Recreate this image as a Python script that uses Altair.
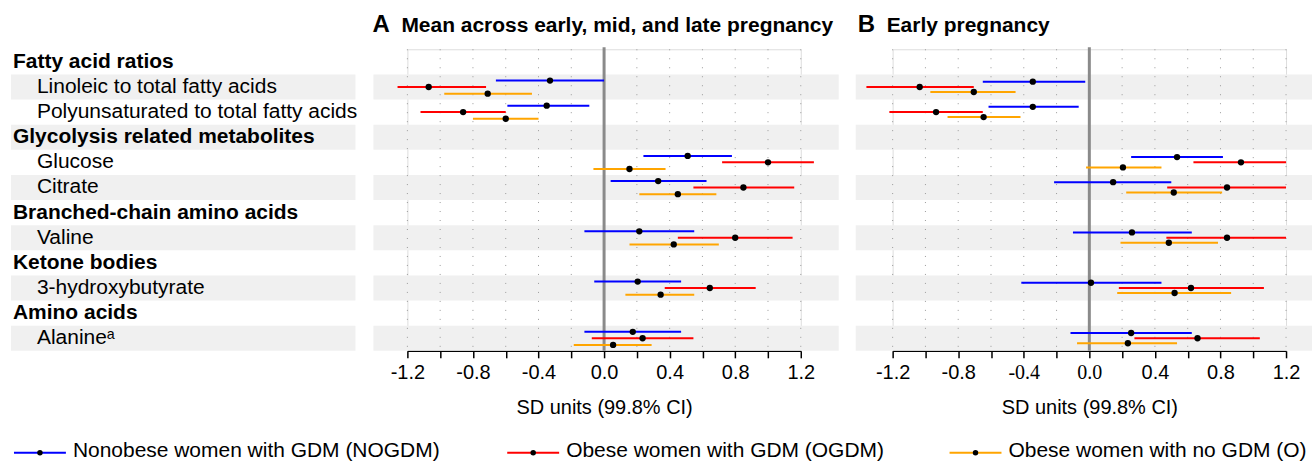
import altair as alt
import pandas as pd

# ---------------- data ----------------
row_labels = [
    "Fatty acid ratios",
    "Linoleic to total fatty acids",
    "Polyunsaturated to total fatty acids",
    "Glycolysis related metabolites",
    "Glucose",
    "Citrate",
    "Branched-chain amino acids",
    "Valine",
    "Ketone bodies",
    "3-hydroxybutyrate",
    "Amino acids",
    "Alanineᵃ",
]
row_is_header = [True, False, False, True, False, False, True, False, True, False, True, False]

groups = [
    "Nonobese women with GDM (NOGDM)",
    "Obese women with GDM (OGDM)",
    "Obese women with no GDM (O)",
]
group_colors = ["#0000ff", "#ff0000", "#ffa500"]

tick_values = [-1.2, -1.0, -0.8, -0.6, -0.4, -0.2, 0.0, 0.2, 0.4, 0.6, 0.8, 1.0, 1.2]

# Panel A: mean across early, mid and late pregnancy (7 metabolites in row order)
a_nogdm_est = [-0.33, -0.35, 0.51, 0.33, 0.215, 0.205, 0.175]
a_nogdm_lo = [-0.66, -0.59, 0.24, 0.04, -0.12, -0.06, -0.12]
a_nogdm_hi = [0.0, -0.09, 0.78, 0.625, 0.55, 0.47, 0.47]
a_ogdm_est = [-1.07, -0.86, 1.0, 0.85, 0.80, 0.645, 0.235]
a_ogdm_lo = [-1.26, -1.12, 0.72, 0.545, 0.45, 0.37, -0.075]
a_ogdm_hi = [-0.72, -0.60, 1.28, 1.16, 1.15, 0.925, 0.545]
a_o_est = [-0.71, -0.60, 0.155, 0.45, 0.425, 0.345, 0.055]
a_o_lo = [-0.975, -0.80, -0.065, 0.215, 0.155, 0.13, -0.185]
a_o_hi = [-0.44, -0.40, 0.375, 0.685, 0.70, 0.55, 0.29]

# Panel B: early pregnancy
b_nogdm_est = [-0.345, -0.345, 0.535, 0.145, 0.26, 0.01, 0.255]
b_nogdm_lo = [-0.65, -0.615, 0.255, -0.215, -0.10, -0.415, -0.115]
b_nogdm_hi = [-0.025, -0.065, 0.815, 0.50, 0.625, 0.44, 0.625]
b_ogdm_est = [-1.035, -0.935, 0.925, 0.84, 0.84, 0.62, 0.66]
b_ogdm_lo = [-1.36, -1.22, 0.635, 0.475, 0.47, 0.18, 0.275]
b_ogdm_hi = [-0.705, -0.65, 1.2, 1.2, 1.2, 1.065, 1.04]
b_o_est = [-0.705, -0.645, 0.205, 0.515, 0.485, 0.52, 0.235]
b_o_lo = [-0.97, -0.865, -0.02, 0.225, 0.19, 0.17, -0.075]
b_o_hi = [-0.45, -0.42, 0.44, 0.81, 0.785, 0.865, 0.535]

# ---------------- layout / style ----------------
FONT = "Liberation Sans"
W = 394
H = 302
A_LEFT = 407          # page x of panel A's plot area
PAD_LEFT = 10
N_ROWS = len(row_labels)
item_rows = [i for i, h in enumerate(row_is_header) if not h]

yscale = alt.Scale(domain=[0, N_ROWS], reverse=True, nice=False, zero=False)
xscale = alt.Scale(domain=[-1.2, 1.2], nice=False, zero=False)

band_df = pd.DataFrame({"y0": [i for i in range(N_ROWS) if i % 2 == 1]})
band_df["y1"] = band_df["y0"] + 1


def panel_df(ests, los, his, offsets):
    recs = []
    for g, (e, l, h) in enumerate(zip(ests, los, his)):
        for k, r in enumerate(item_rows):
            recs.append(dict(group=groups[g], est=e[k], lo=l[k], hi=h[k], pos=r + offsets[g]))
    return pd.DataFrame(recs)


LABEL_EXPR = ("abs(round(datum.value*10)) % 4 == 0 ? "
              "(datum.value < -0.01 ? '-' : '') + format(abs(datum.value), '.1f') : ''")


def make_axis(serif):
    kw = dict(
        values=tick_values, labelExpr=LABEL_EXPR, title="SD units (99.8% CI)",
        grid=False, domainColor="black", domainWidth=1.5, tickColor="black",
        tickWidth=1.5, tickSize=7, labelFontSize=20, labelColor="black",
        labelPadding=5, labelFlush=False, labelOverlap=False,
        titleFontSize=20, titleFontWeight="normal", titleColor="black",
        titleFont=FONT, titlePadding=15,
    )
    if serif:
        kw["labelFont"] = {
            "condition": {"test": "abs(datum.value + 0.4) < 0.01 || abs(datum.value) < 0.01",
                          "value": "Liberation Serif"},
            "value": FONT,
        }
    else:
        kw["labelFont"] = FONT
    return alt.Axis(**kw)


def make_panel(df, letter, title, band_left, band_right, serif, extra=()):
    axis = make_axis(serif)
    bands = alt.Chart(band_df).mark_rect(color="#f0f0f0").encode(
        x=alt.value(band_left), x2=alt.value(W + band_right),
        y=alt.Y("y0:Q", scale=yscale, axis=None), y2="y1:Q")
    grid = alt.Chart(pd.DataFrame({"t": tick_values})).mark_rule(
        color="#9a9a9a", strokeDash=[1, 8], strokeWidth=1).encode(
        x=alt.X("t:Q", scale=xscale, axis=axis), y=alt.value(0), y2=alt.value(H))
    zero = alt.Chart(pd.DataFrame({"z": [0.0]})).mark_rule(
        color="#8a8a8a", strokeWidth=3).encode(
        x=alt.X("z:Q", scale=xscale, axis=axis), y=alt.value(-2), y2=alt.value(H))
    ci = alt.Chart(df).mark_rule(strokeWidth=2).encode(
        x=alt.X("lo:Q", scale=xscale, axis=axis), x2="hi:Q",
        y=alt.Y("pos:Q", scale=yscale, axis=None),
        color=alt.Color("group:N", scale=alt.Scale(domain=groups, range=group_colors), legend=None))
    pts = alt.Chart(df).mark_circle(color="black", size=40, opacity=1).encode(
        x=alt.X("est:Q", scale=xscale, axis=axis),
        y=alt.Y("pos:Q", scale=yscale, axis=None))
    t_letter = alt.Chart(pd.DataFrame({"t": [letter]})).mark_text(
        fontSize=24, fontWeight="bold", align="left", baseline="middle", color="black", font=FONT).encode(
        text="t:N", x=alt.value(-35), y=alt.value(-24))
    t_title = alt.Chart(pd.DataFrame({"t": [title]})).mark_text(
        fontSize=21, fontWeight="bold", align="left", baseline="middle", color="black", font=FONT).encode(
        text="t:N", x=alt.value(-6), y=alt.value(-23))
    return alt.layer(bands, grid, zero, ci, pts, t_letter, t_title, *extra).properties(width=W, height=H)


# ---------------- row labels and legend (drawn with panel A, to its left / below) ----------------
lab_df = pd.DataFrame({"label": row_labels, "header": row_is_header})
lab_df["yc"] = [i + 0.5 for i in range(N_ROWS)]

lab_bands = alt.Chart(band_df).mark_rect(color="#f0f0f0").encode(
    x=alt.value(10 - A_LEFT), x2=alt.value(355 - A_LEFT),
    y=alt.Y("y0:Q", scale=yscale, axis=None), y2="y1:Q")
lab_hdr = alt.Chart(lab_df[lab_df["header"]]).mark_text(
    align="left", baseline="middle", fontSize=21, fontWeight="bold", color="black", font=FONT).encode(
    text="label:N", x=alt.value(12 - A_LEFT), y=alt.Y("yc:Q", scale=yscale, axis=None))
lab_itm = alt.Chart(lab_df[~lab_df["header"]]).mark_text(
    align="left", baseline="middle", fontSize=21, color="black", font=FONT).encode(
    text="label:N", x=alt.value(36 - A_LEFT), y=alt.Y("yc:Q", scale=yscale, axis=None))

legend_x = [13, 507, 950]
LEG_Y = 404
leg_df = pd.DataFrame({"group": groups, "color": group_colors, "x0": [v - A_LEFT for v in legend_x]})
leg_df["x1"] = leg_df["x0"] + 52
leg_df["xd"] = leg_df["x0"] + 26
leg_df["xt"] = leg_df["x0"] + 59

leg_rule = alt.Chart(leg_df).mark_rule(strokeWidth=2).encode(
    x=alt.X("x0:Q", scale=None, axis=None), x2="x1:Q", y=alt.value(LEG_Y),
    color=alt.Color("color:N", scale=None, legend=None))
leg_pt = alt.Chart(leg_df).mark_circle(color="black", size=30, opacity=1).encode(
    x=alt.X("xd:Q", scale=None, axis=None), y=alt.value(LEG_Y))
leg_txt = alt.Chart(leg_df).mark_text(
    align="left", baseline="middle", fontSize=21, color="black", font=FONT).encode(
    text="group:N", x=alt.X("xt:Q", scale=None, axis=None), y=alt.value(LEG_Y - 2))

# ---------------- panels ----------------
offsets_a = [0.245, 0.50, 0.765]
offsets_b = [0.29, 0.50, 0.70]

df_a = panel_df([a_nogdm_est, a_ogdm_est, a_o_est], [a_nogdm_lo, a_ogdm_lo, a_o_lo],
                [a_nogdm_hi, a_ogdm_hi, a_o_hi], offsets_a)
df_b = panel_df([b_nogdm_est, b_ogdm_est, b_o_est], [b_nogdm_lo, b_ogdm_lo, b_o_lo],
                [b_nogdm_hi, b_ogdm_hi, b_o_hi], offsets_b)

panel_a = make_panel(df_a, "A", "Mean across early, mid, and late pregnancy", -34, 38, False,
                     extra=(lab_bands, lab_hdr, lab_itm, leg_rule, leg_pt, leg_txt))
panel_b = make_panel(df_b, "B", "Early pregnancy", -37, 26, True)

chart = alt.hconcat(panel_a, panel_b, spacing=92, bounds="flush").properties(
    padding={"left": PAD_LEFT, "top": 12, "right": 0, "bottom": 0}
).configure_view(stroke="transparent", strokeWidth=0).configure(font=FONT)

chart.save("out.html", embed_options={"renderer": "svg", "actions": False})
